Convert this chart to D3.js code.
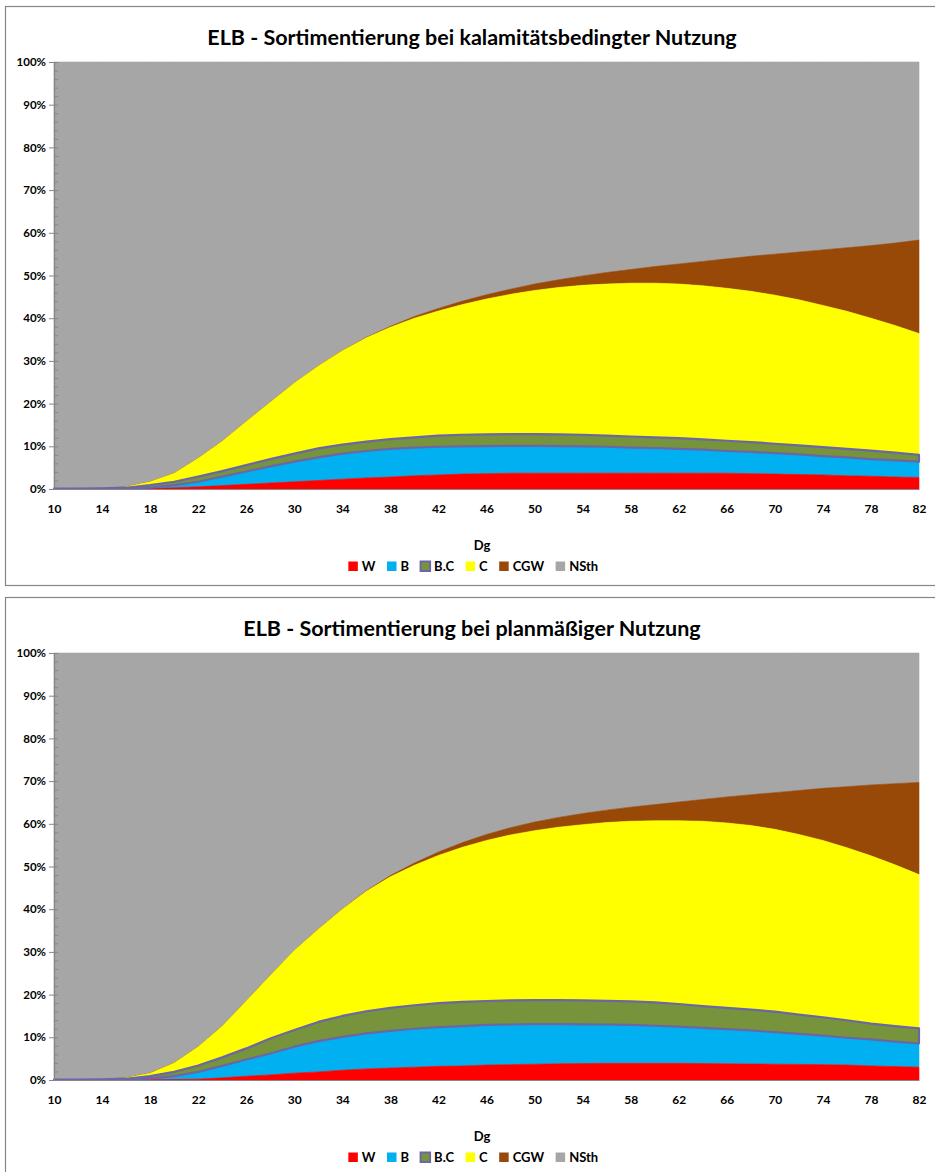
<!DOCTYPE html>
<html><head><meta charset="utf-8">
<script src="https://cdn.jsdelivr.net/npm/d3@7"></script>
<style>
body{margin:0;background:#fff}
svg{display:block}
text{font-family:Lato,"Open Sans","DejaVu Sans",sans-serif;font-weight:bold;fill:#000}
</style>
</head><body>
<svg id="c" width="935" height="1172"></svg>
<script>
// ---------- data ----------
const dg = [10,12,14,16,18,20,22,24,26,28,30,32,34,36,38,40,42,44,46,48,50,52,54,56,58,60,62,64,66,68,70,72,74,76,78,80,82];
const xTickLabels = [10,14,18,22,26,30,34,38,42,46,50,54,58,62,66,70,74,78,82];
const yTickValues = [0,0.1,0.2,0.3,0.4,0.5,0.6,0.7,0.8,0.9,1];
const seriesNames = ["W","B","B.C","C","CGW","NSth"];
const seriesColors = ["#FF0000","#00B0F0","#77933C","#FFFF00","#984807","#A6A6A6"];

const titleKal = "ELB - Sortimentierung bei kalamitätsbedingter Nutzung";
const titlePlan = "ELB - Sortimentierung bei planmäßiger Nutzung";
const xAxisTitle = "Dg";

// kalamitätsbedingte Nutzung (% share per Dg)
const W_kal    = [0,0,0,0,0.1,0.3,0.5,0.8,1.1,1.4,1.7,2.0,2.3,2.6,2.8,3.1,3.3,3.5,3.6,3.7,3.7,3.7,3.7,3.7,3.7,3.7,3.7,3.7,3.7,3.6,3.5,3.4,3.3,3.1,3.0,2.8,2.7];
const B_kal    = [0,0,0,0.1,0.2,0.6,1.2,2.1,3.0,3.9,4.7,5.4,6.0,6.3,6.6,6.6,6.6,6.5,6.45,6.4,6.4,6.35,6.3,6.2,6.0,5.9,5.7,5.5,5.2,5.1,4.9,4.7,4.4,4.3,4.0,3.9,3.7];
const BC_kal   = [0.1,0.1,0.15,0.2,0.6,0.8,1.2,1.3,1.5,1.7,1.9,2.1,2.1,2.2,2.3,2.4,2.6,2.7,2.75,2.75,2.75,2.75,2.7,2.6,2.6,2.5,2.5,2.4,2.4,2.3,2.2,2.1,2.1,2.0,2.0,1.8,1.6];
const C_kal    = [0,0,0,0.2,0.8,2.0,4.3,7.0,10.2,13.3,16.5,19.3,22.0,24.3,26.2,27.9,29.2,30.5,31.7,32.75,33.65,34.4,35.0,35.5,35.9,36.1,36.1,36.0,35.7,35.3,34.8,34.1,33.2,32.2,31.0,29.8,28.4];
const CGW_kal  = [0,0,0,0,0,0,0,0,0,0,0,0,0,0.1,0.2,0.4,0.6,0.8,1.0,1.2,1.5,1.8,2.2,2.7,3.2,3.9,4.7,5.7,6.9,8.2,9.6,11.2,13.0,14.9,17.0,19.3,21.9];
const NSth_kal = [99.9,99.9,99.85,99.5,98.3,96.3,92.8,88.8,84.2,79.7,75.2,71.2,67.6,64.5,61.9,59.6,57.7,56.0,54.5,53.2,52.0,51.0,50.1,49.3,48.6,47.9,47.3,46.7,46.1,45.5,45.0,44.5,44.0,43.5,43.0,42.4,41.7];

// planmäßige Nutzung (% share per Dg)
const W_plan    = [0,0,0,0,0.05,0.1,0.2,0.5,0.9,1.2,1.6,1.9,2.3,2.6,2.8,3.0,3.2,3.3,3.5,3.6,3.7,3.8,3.85,3.9,3.9,3.9,3.9,3.85,3.8,3.75,3.7,3.65,3.6,3.5,3.3,3.15,3.0];
const B_plan    = [0,0,0,0.1,0.35,0.8,1.7,2.8,3.9,5.0,6.2,7.2,7.8,8.3,8.7,9.0,9.2,9.3,9.4,9.4,9.4,9.3,9.2,9.1,9.0,8.8,8.6,8.35,8.1,7.85,7.5,7.15,6.8,6.4,6.2,5.85,5.6];
const BC_plan   = [0.1,0.1,0.15,0.2,0.5,1.0,1.5,2.0,2.6,3.5,3.9,4.5,4.9,5.2,5.4,5.5,5.6,5.7,5.6,5.65,5.6,5.6,5.6,5.55,5.5,5.5,5.3,5.1,5.0,4.9,4.8,4.5,4.3,4.1,3.7,3.6,3.5];
const C_plan    = [0,0,0,0.2,0.7,2.1,4.4,7.3,11.1,14.8,18.6,21.7,25.0,28.1,30.7,32.8,34.6,36.2,37.6,38.75,39.7,40.5,41.15,41.75,42.2,42.5,42.9,43.3,43.3,43.1,42.7,42.2,41.4,40.4,39.3,37.8,36.0];
const CGW_plan  = [0,0,0,0,0,0,0,0,0,0,0,0,0,0.1,0.3,0.5,0.8,1.1,1.4,1.7,2.0,2.3,2.6,2.9,3.3,3.8,4.4,5.1,6.1,7.2,8.6,10.3,12.2,14.3,16.6,19.0,21.6];
const NSth_plan = [99.9,99.9,99.85,99.5,98.4,96.0,92.2,87.4,81.5,75.5,69.7,64.7,60.0,55.7,52.1,49.2,46.6,44.4,42.5,40.9,39.6,38.5,37.6,36.8,36.1,35.5,34.9,34.3,33.7,33.2,32.7,32.2,31.7,31.3,30.9,30.6,30.3];

// ---------- drawing ----------
const svg = d3.select("#c");
const colorOf = d3.scaleOrdinal().domain(seriesNames).range(seriesColors);
const plotL = 54, plotR = 919, plotT = 62, plotB = 489;
const x = d3.scalePoint().domain(dg).range([plotL, plotR]);
const y = d3.scaleLinear().domain([0,1]).range([plotB, plotT]);
const axisColor = "#868686";
const bcStroke = "#6B66A6";
const FONT = 'Lato,"Open Sans",sans-serif';

function drawChart(offsetY, title, series){
  // frame
  svg.append("rect").attr("x",5.5).attr("y",offsetY+6.5).attr("width",960).attr("height",offsetY>0?620:579)
     .attr("fill","#fff").attr("stroke",axisColor).attr("stroke-width",1.2);
  const g = svg.append("g").attr("transform",`translate(0,${offsetY})`);

  const rows = dg.map((d,i)=>{const r={dg:d}; seriesNames.forEach((s,j)=>r[s]=series[j][i]); return r;});
  const layers = d3.stack().keys(seriesNames).offset(d3.stackOffsetExpand)(rows);
  const area = d3.area().x(d=>x(d.data.dg)).y0(d=>y(d[0])).y1(d=>y(d[1]));

  g.append("g").selectAll("path").data(layers.slice().reverse()).join("path")
    .attr("d",area).attr("fill",d=>colorOf(d.key))
    .attr("stroke",d=>d.key==="B.C"?"none":colorOf(d.key)).attr("stroke-width",0.6);
  const bc = layers.find(l=>l.key==="B.C");
  g.append("path").attr("d",area(bc)).attr("fill","none").attr("stroke",bcStroke)
    .attr("stroke-width",2.2).attr("stroke-linejoin","round");

  // y axis
  const yMinor = d3.range(0,1.0001,0.02);
  const ay = g.append("g").attr("transform",`translate(${plotL},0)`)
    .call(d3.axisLeft(y).tickValues(yTickValues).tickFormat(d3.format(".0%")).tickSize(5).tickPadding(3));
  g.append("g").attr("transform",`translate(${plotL},0)`)
    .call(d3.axisRight(y).tickValues(yMinor).tickFormat("").tickSize(4).tickSizeOuter(0))
    .call(s=>s.select(".domain").remove());
  ay.selectAll("text").style("font-size","11.5px");

  // x axis
  const ax = g.append("g").attr("transform",`translate(0,${plotB})`)
    .call(d3.axisBottom(x).tickValues(xTickLabels).tickSize(0).tickSizeOuter(0).tickPadding(15));
  ax.selectAll("text").style("font-size","12px");

  g.selectAll(".domain").attr("stroke",axisColor).attr("stroke-width",1.2);
  g.selectAll(".tick line").attr("stroke",axisColor);
  g.selectAll(".tick text").attr("fill","#000").style("font-family",FONT).style("font-weight","bold");

  // title
  g.append("text").attr("x",472).attr("y",44.5).attr("text-anchor","middle")
    .style("font-size","21.5px").text(title);
  // axis title
  g.append("text").attr("x",482).attr("y",plotB+61).attr("text-anchor","middle")
    .style("font-size","13px").text(xAxisTitle);

  // legend
  const lg = g.append("g");
  const items = lg.selectAll("g").data(seriesNames).join("g");
  items.append("text").attr("y",plotB+82).style("font-size","13px").text(d=>d);
  let cx = 0; const pos=[];
  items.each(function(){
    const w = this.querySelector("text").getComputedTextLength();
    pos.push(cx); cx += 10 + 4 + w + 11;
  });
  const total = cx - 11;
  const start = 473 - total/2;
  items.attr("transform",(d,i)=>`translate(${start+pos[i]},0)`);
  items.select("text").attr("x",14);
  items.insert("rect","text").attr("x",0.5).attr("y",plotB+72.5).attr("width",9.5).attr("height",9.5)
    .attr("fill",d=>colorOf(d))
    .attr("stroke",d=>d==="B.C"?bcStroke:"none").attr("stroke-width",2);
}

drawChart(0, titleKal, [W_kal,B_kal,BC_kal,C_kal,CGW_kal,NSth_kal]);
drawChart(591, titlePlan, [W_plan,B_plan,BC_plan,C_plan,CGW_plan,NSth_plan]);
</script>
</body></html>
